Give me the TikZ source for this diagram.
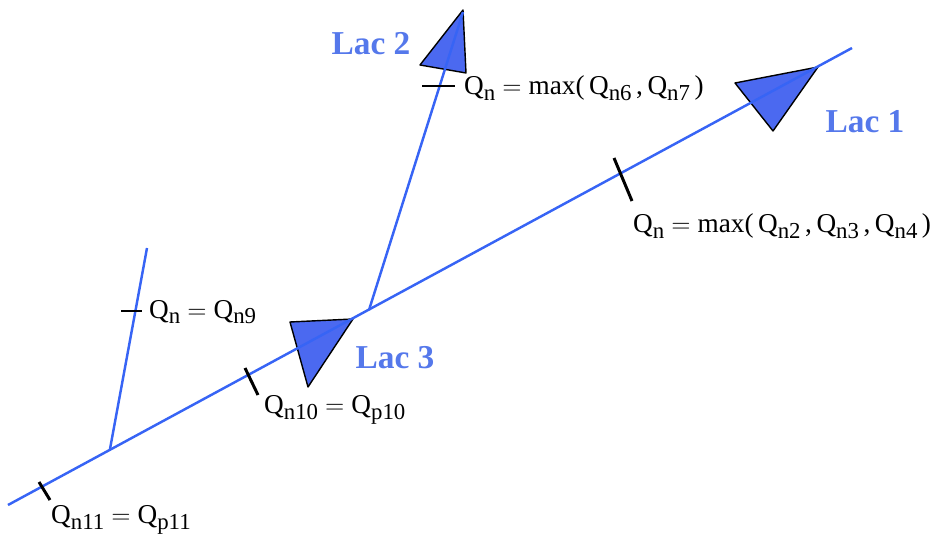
\documentclass[tikz,border=0pt]{standalone}
\usepackage{fontspec}
\setmainfont{Liberation Serif}
\definecolor{riverblue}{RGB}{55,100,245}
\definecolor{lakeblue}{RGB}{75,105,240}
\definecolor{lacname}{RGB}{85,120,235}
\newcommand{\sbs}[1]{\raisebox{-0.45ex}{\fontsize{13}{14}\selectfont #1}}
\newcommand{\eqsign}{\hspace{4pt}$=$\hspace{4pt}}

\begin{document}
\begin{tikzpicture}[x=0.02cm, y=-0.02cm, line width=1.4pt,
  river/.style={draw=riverblue, line width=1.4pt},
  lake/.style={fill=lakeblue, draw=black, line width=0.8pt, line join=round},
  tick/.style={draw=black, line width=1.7pt},
  lacname/.style={font=\fontsize{19}{21}\selectfont\bfseries, text=lacname},
  formula/.style={font=\fontsize{15.5}{18}\selectfont, anchor=west, inner sep=0pt}]
  \useasboundingbox (0,0) rectangle (935,543);

  % lakes
  \filldraw[lake] (735,83) -- (818,67) -- (773,131) -- cycle;
  \filldraw[lake] (463,10) -- (420,65) -- (466,73) -- cycle;
  \filldraw[lake] (290,322) -- (353,319) -- (308,387) -- cycle;

  % river network
  \coordinate (aval) at (8,505);
  \coordinate (amont) at (852,48);
  \coordinate (conf2) at (369,310);
  \coordinate (src2) at (463,12);
  \coordinate (conf9) at (110,449);
  \coordinate (src9) at (147,248);
  \draw[river] (aval) -- (amont);
  \draw[river] (conf2) -- (src2);
  \draw[river] (conf9) -- (src9);

  % section marks
  \coordinate (t1a) at (614,158);
  \coordinate (t1b) at (632,201);
  \coordinate (t2a) at (422,86);
  \coordinate (t2b) at (455,86);
  \coordinate (t9a) at (121,311);
  \coordinate (t9b) at (142,311);
  \coordinate (t10a) at (245,368);
  \coordinate (t10b) at (258,395);
  \coordinate (t11a) at (39,482);
  \coordinate (t11b) at (50,500);
  \draw[tick] (t1a) -- (t1b);
  \draw[tick] (t2a) -- (t2b);
  \draw[tick] (t9a) -- (t9b);
  \draw[tick] (t10a) -- (t10b);
  \draw[tick] (t11a) -- (t11b);

  % lake names
  \node[lacname] (lac1) at (865,122) {Lac 1};
  \node[lacname] (lac2) at (371,44) {Lac 2};
  \node[lacname] (lac3) at (395,358) {Lac 3};

  % flows
  \node[formula] (q2) at (463,88) {Q\sbs{n}\eqsign max(\,Q\sbs{n6}\,,\,Q\sbs{n7}\,)};
  \node[formula] (q1) at (632,226) {Q\sbs{n}\eqsign max(\,Q\sbs{n2}\,,\,Q\sbs{n3}\,,\,Q\sbs{n4}\,)};
  \node[formula] (q9) at (148,312) {Q\sbs{n}\eqsign Q\sbs{n9}};
  \node[formula] (q10) at (263,410) {Q\sbs{n10}\eqsign Q\sbs{p10}};
  \node[formula] (q11) at (50,520) {Q\sbs{n11}\eqsign Q\sbs{p11}};
\end{tikzpicture}
\end{document}
